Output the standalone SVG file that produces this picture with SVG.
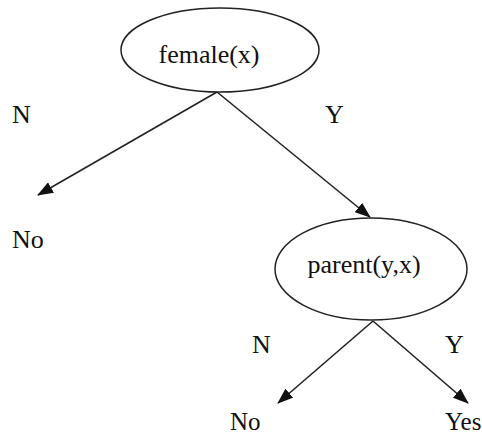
<svg xmlns="http://www.w3.org/2000/svg" width="482" height="437" viewBox="0 0 482 437">
<style>
.n{fill:#fff;stroke:#222;stroke-width:1.5}
.t{font-family:"Liberation Serif","Times New Roman",serif;font-size:26px;fill:#111}
.b{font-size:25px}
.e{stroke:#222;stroke-width:1.6;fill:none;marker-end:url(#a)}
</style>
<defs>
<marker id="a" markerUnits="userSpaceOnUse" markerWidth="16" markerHeight="12" refX="15" refY="6" orient="auto">
<path d="M0,0 L16,6 L0,12 Z" fill="#111"/>
</marker>
</defs>
<rect width="482" height="437" fill="#fff"/>
<g id="edges">
<line class="e" x1="217" y1="92" x2="38" y2="195"/>
<line class="e" x1="217" y1="92" x2="370" y2="217"/>
<line class="e" x1="373" y1="321" x2="278" y2="403"/>
<line class="e" x1="373" y1="321" x2="468" y2="403"/>
<text class="t" x="12" y="123">N</text>
<text class="t" x="325" y="123">Y</text>
<text class="t" x="252" y="353">N</text>
<text class="t" x="445" y="353">Y</text>
</g>
<g id="female">
<ellipse class="n" cx="220" cy="50" rx="99" ry="42"/>
<text class="t" x="209" y="63" text-anchor="middle">female(x)</text>
</g>
<g id="parent">
<ellipse class="n" cx="371" cy="269" rx="96" ry="51"/>
<text class="t" x="364" y="273" text-anchor="middle">parent(y,x)</text>
</g>
<g id="no1"><text class="t" x="12" y="248">No</text></g>
<g id="no2"><text class="t b" x="230" y="430">No</text></g>
<g id="yes"><text class="t b" x="445" y="430">Yes</text></g>
</svg>
